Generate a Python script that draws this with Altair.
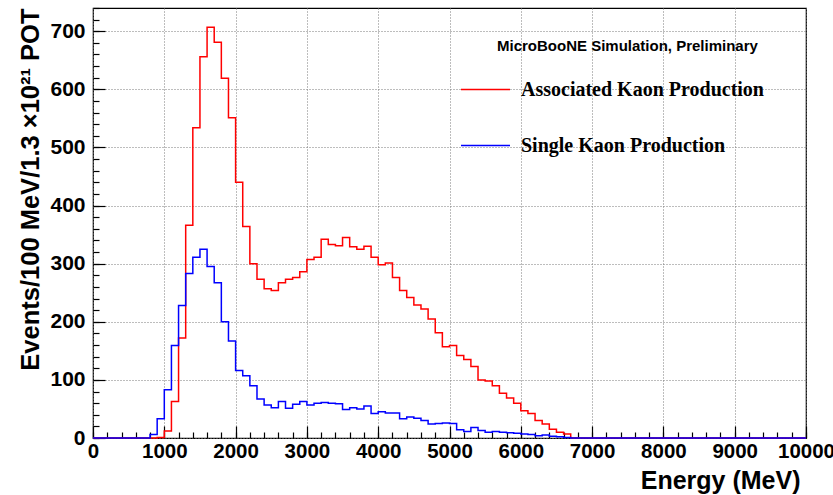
import altair as alt
import pandas as pd

# ---------------- data (100 MeV bins, 0 - 10000 MeV) ----------------
series_names = ["Associated Kaon Production", "Single Kaon Production"]
series_colors = ["#ff0000", "#0000ff"]

bin_width = 100
assoc_counts = [
    0, 0, 0, 0, 0, 0, 0, 0, 0, 1,
    12, 63, 172, 366, 534, 656, 707, 681, 619, 551,
    440, 364, 300, 273, 257, 254, 267, 273, 276, 286,
    307, 311, 342, 333, 331, 345, 329, 325, 330, 311,
    298, 301, 276, 254, 242, 229, 222, 205, 181, 157,
    159, 142, 135, 123, 100, 98, 90, 77, 69, 60,
    47, 42, 30, 24, 15, 10, 7, 0, 0, 0,
    0, 0, 0, 0, 0, 0, 0, 0, 0, 0,
    0, 0, 0, 0, 0, 0, 0, 0, 0, 0,
    0, 0, 0, 0, 0, 0, 0, 0, 0, 0,
]
single_counts = [
    0, 0, 0, 0, 0, 0, 0, 0, 6, 33,
    83, 159, 228, 283, 311, 325, 295, 267, 200, 167,
    116, 107, 90, 67, 57, 52, 63, 51, 58, 63,
    57, 60, 61, 60, 59, 49, 52, 50, 55, 42,
    45, 43, 43, 33, 36, 34, 30, 24, 25, 26,
    25, 14, 11, 18, 13, 10, 11, 10, 9, 8,
    7, 6, 4, 5, 3, 2, 1, 0, 0, 0,
    0, 0, 0, 0, 0, 0, 0, 0, 0, 0,
    0, 0, 0, 0, 0, 0, 0, 0, 0, 0,
    0, 0, 0, 0, 0, 0, 0, 0, 0, 0,
]
x_major_ticks = [0, 1000, 2000, 3000, 4000, 5000, 6000, 7000, 8000, 9000, 10000]
x_minor_ticks = list(range(0, 10001, 200))
y_major_ticks = [0, 100, 200, 300, 400, 500, 600, 700]
y_minor_ticks = list(range(0, 741, 20))
annotation = ["MicroBooNE Simulation, Preliminary"]

# histogram outline table: bin low edges + closing edge, step-after interpolation
rows = []
for name, counts in zip(series_names, [assoc_counts, single_counts]):
    edges = [i * bin_width for i in range(len(counts) + 1)]
    vals = counts + [counts[-1]]
    for e, v in zip(edges, vals):
        rows.append({"energy": e, "events": v, "process": name})
df = pd.DataFrame(rows)

W, H = 713, 430
xscale = alt.Scale(domain=[0, 10000], nice=False, zero=False)
yscale = alt.Scale(domain=[0, 740], nice=False)

FONT = "Liberation Sans"

x_major = alt.Axis(
    orient="bottom", values=x_major_ticks, format="d", offset=-12, tickSize=12,
    domain=False, grid=True, gridColor="#7a7a7a", gridDash=[1, 2], gridWidth=1,
    tickColor="black", tickWidth=1.2, labelFont=FONT, labelFontWeight="bold",
    labelFontSize=20.5, labelColor="black", labelPadding=3, labelFlush=False,
    labelOverlap=False, title="Energy (MeV)", titleFont=FONT, titleFontWeight="bold",
    titleFontSize=25, titleColor="black", titleAnchor="end", titleAlign="right",
    titleBaseline="alphabetic", titleX=707, titleY=62,
)
y_major = alt.Axis(
    orient="left", values=y_major_ticks, format="d", offset=-12, tickSize=12,
    domain=False, grid=True, gridColor="#7a7a7a", gridDash=[1, 2], gridWidth=1,
    tickColor="black", tickWidth=1.2, labelFont=FONT, labelFontWeight="bold",
    labelFontSize=21, labelColor="black", labelPadding=8, labelFlush=False,
    labelOverlap=False, title="Events/100 MeV/1.3 \u00d710\u00b2\u00b9 POT", titleFont=FONT,
    titleFontWeight="bold", titleFontSize=25.5, titleColor="black", titleAngle=-90,
    titleAlign="right", titleBaseline="alphabetic", titleX=-67, titleY=0,
)
x_minor = alt.Axis(
    orient="bottom", values=x_minor_ticks, offset=-6, tickSize=6, domain=False,
    grid=False, labels=False, tickColor="black", tickWidth=1.2, title="",
)
y_minor = alt.Axis(
    orient="left", values=y_minor_ticks, offset=-6, tickSize=6, domain=False,
    grid=False, labels=False, tickColor="black", tickWidth=1.2, title="",
)

base = alt.Chart(df)

minor_layer = base.mark_line(strokeOpacity=0).encode(
    x=alt.X("energy:Q", scale=xscale, axis=x_minor),
    y=alt.Y("events:Q", scale=yscale, axis=y_minor),
    detail="process:N",
)

hist = base.mark_line(interpolate="step-after", strokeWidth=1.5).encode(
    x=alt.X("energy:Q", scale=xscale, axis=x_major),
    y=alt.Y("events:Q", scale=yscale, axis=y_major),
    color=alt.Color(
        "process:N",
        scale=alt.Scale(domain=series_names, range=series_colors),
        sort=series_names,
        legend=alt.Legend(
            orient="none", legendX=367, legendY=56, title="", padding=0,
            symbolType="stroke", symbolSize=2401, symbolStrokeWidth=1.5,
            labelFont="Liberation Serif", labelFontWeight="bold", labelFontSize=20,
            labelColor="black", labelOffset=10, labelLimit=400, rowPadding=20,
        ),
    ),
)

note = alt.Chart(pd.DataFrame({"t": annotation})).mark_text(
    font=FONT, fontWeight="bold", fontSize=15, align="left", baseline="alphabetic",
    color="black",
).encode(text="t:N", x=alt.value(404), y=alt.value(43))

chart = (
    alt.layer(minor_layer, hist, note)
    .resolve_axis(x="independent", y="independent")
    .properties(
        width=W, height=H,
        autosize=alt.AutoSizeParams(type="none"),
        padding={"left": 93, "top": 8, "right": 27, "bottom": 57},
        background="white",
    )
    .configure_view(stroke="black", strokeWidth=1.2)
)

chart.save("out.html", embed_options={"renderer": "svg", "actions": False})
